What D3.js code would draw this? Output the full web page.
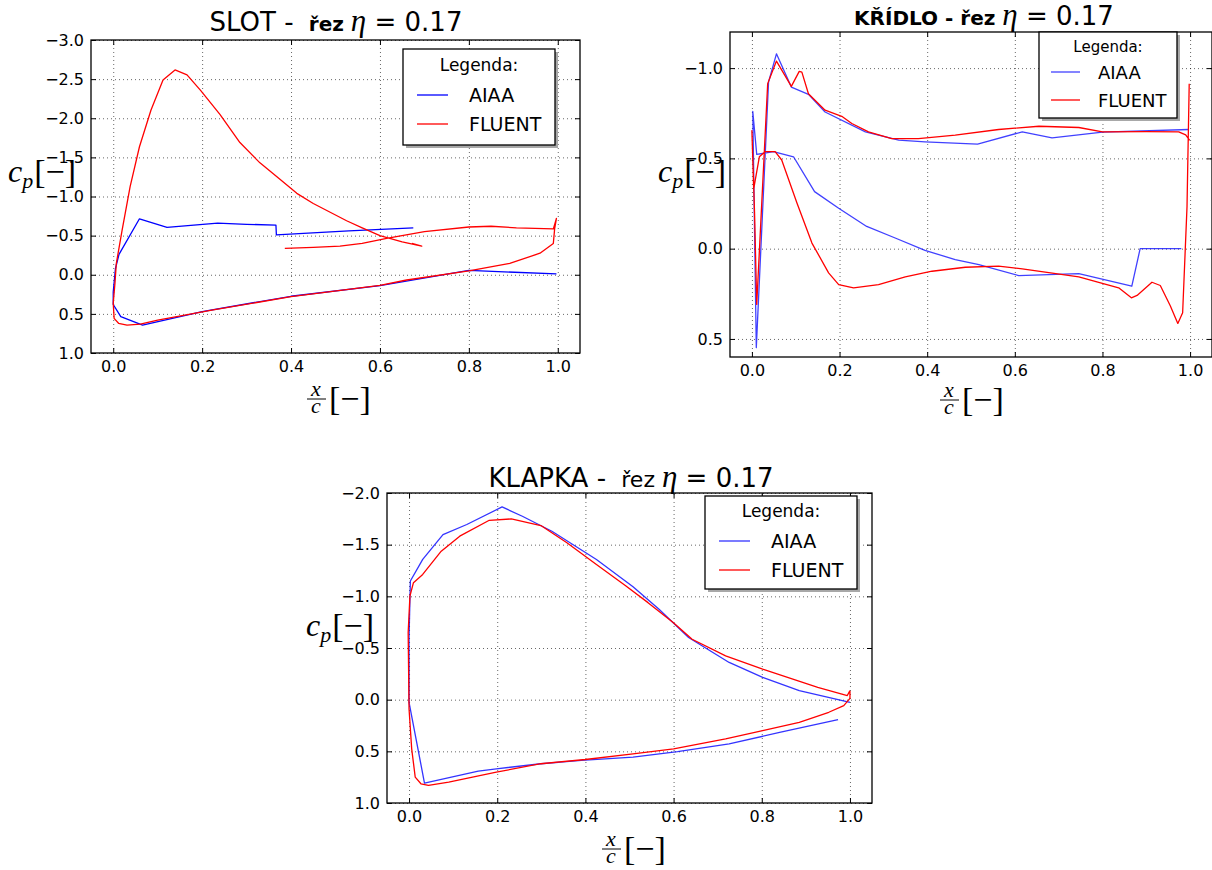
<!DOCTYPE html>
<html>
<head>
<meta charset="utf-8">
<script src="https://cdn.jsdelivr.net/npm/d3@7"></script>
<style>
  body { margin: 0; background: #fff; }
</style>
</head>
<body>
<div id="vis-container"></div>
<script>
// tick values
const xTicks = [0, 0.2, 0.4, 0.6, 0.8, 1.0];
const slotYTicks = [-3, -2.5, -2, -1.5, -1, -0.5, 0, 0.5, 1];
const kridloYTicks = [-1, -0.5, 0, 0.5];
const klapkaYTicks = [-2, -1.5, -1, -0.5, 0, 0.5, 1];
const seriesNames = ["AIAA", "FLUENT"];

// SLOT, [x/c, cp]
const slotAiaa = [
  [0.675, -0.60], [0.53, -0.56], [0.367, -0.51], [0.366, -0.635], [0.30, -0.645],
  [0.235, -0.66], [0.121, -0.605], [0.059, -0.715], [0.013, -0.26], [0.005, -0.08],
  [0.0, 0.22], [0.0, 0.38], [0.017, 0.535], [0.066, 0.645], [0.2, 0.47],
  [0.4, 0.275], [0.6, 0.14], [0.8, -0.055], [0.997, -0.01]
];
const slotFluent = [
  [0.386, -0.338], [0.45, -0.35], [0.51, -0.365], [0.56, -0.40], [0.615, -0.466],
  [0.70, -0.55], [0.80, -0.61], [0.85, -0.62], [0.907, -0.60], [0.99, -0.585],
  [0.997, -0.72], [0.993, -0.59], [0.99, -0.40], [0.96, -0.275], [0.892, -0.145],
  [0.80, -0.05], [0.66, 0.067], [0.60, 0.135], [0.40, 0.28], [0.225, 0.45],
  [0.10, 0.58], [0.061, 0.63], [0.031, 0.645], [0.012, 0.62], [0.002, 0.557],
  [0.0, 0.365], [0.004, 0.1], [0.007, -0.146], [0.02, -0.57], [0.038, -1.125],
  [0.059, -1.636], [0.085, -2.105], [0.112, -2.49], [0.139, -2.617], [0.166, -2.555],
  [0.196, -2.36], [0.24, -2.05], [0.285, -1.69], [0.33, -1.43], [0.375, -1.22],
  [0.413, -1.04], [0.45, -0.91], [0.525, -0.69], [0.56, -0.60], [0.60, -0.50],
  [0.65, -0.42], [0.694, -0.367], [0.672, -0.40]
];

// KRIDLO, [x/c, cp]
const kridloAiaa = [
  [0.997, -0.66], [0.8, -0.645], [0.685, -0.614], [0.617, -0.647], [0.515, -0.579],
  [0.395, -0.592], [0.335, -0.601], [0.259, -0.647], [0.167, -0.757], [0.129, -0.855],
  [0.09, -0.895], [0.056, -1.079], [0.038, -0.923], [0.01, 0.548], [0.002, -0.76],
  [0.011, -0.522], [0.049, -0.537], [0.095, -0.509], [0.143, -0.316], [0.198, -0.224],
  [0.262, -0.123], [0.327, -0.059], [0.395, 0.009], [0.464, 0.061], [0.518, 0.088],
  [0.609, 0.149], [0.746, 0.138], [0.867, 0.208], [0.886, 0.0], [0.98, 0.0]
];
const kridloFluent = [
  [0.999, -0.60], [0.99, -0.63], [0.974, -0.647], [0.9, -0.648], [0.8, -0.647],
  [0.746, -0.671], [0.655, -0.678], [0.563, -0.66], [0.464, -0.629], [0.38, -0.61],
  [0.319, -0.61], [0.266, -0.647], [0.228, -0.693], [0.205, -0.733], [0.167, -0.767],
  [0.129, -0.858], [0.114, -0.978], [0.108, -0.982], [0.09, -0.899], [0.056, -1.039],
  [0.036, -0.914], [0.011, 0.309], [0.006, -0.2], [0.0, -0.653], [0.004, -0.33],
  [0.017, -0.509], [0.03, -0.537], [0.053, -0.537], [0.068, -0.491], [0.103, -0.252],
  [0.137, -0.031], [0.175, 0.134], [0.198, 0.199], [0.232, 0.217], [0.289, 0.199],
  [0.35, 0.156], [0.411, 0.125], [0.487, 0.103], [0.563, 0.097], [0.617, 0.112],
  [0.746, 0.156], [0.837, 0.217], [0.866, 0.272], [0.879, 0.259], [0.913, 0.186],
  [0.932, 0.204], [0.955, 0.318], [0.972, 0.414], [0.983, 0.355], [0.993, -0.233],
  [0.998, -0.914]
];

// KLAPKA, [x/c, cp]
const klapkaAiaa = [
  [0.973, 0.193], [0.843, 0.315], [0.726, 0.428], [0.609, 0.502], [0.508, 0.556],
  [0.391, 0.588], [0.299, 0.62], [0.198, 0.669], [0.157, 0.691], [0.035, 0.807],
  [0.0, 0.026], [0.0, -0.6], [0.003, -1.148], [0.031, -1.357], [0.077, -1.598],
  [0.131, -1.695], [0.211, -1.865], [0.257, -1.775], [0.324, -1.63], [0.425, -1.357],
  [0.508, -1.093], [0.567, -0.875], [0.634, -0.601], [0.726, -0.36], [0.802, -0.215],
  [0.885, -0.087], [1.0, 0.026]
];
const klapkaFluent = [
  [1.0, -0.087], [0.994, -0.04], [0.927, -0.119], [0.802, -0.296], [0.718, -0.424],
  [0.642, -0.585], [0.599, -0.746], [0.542, -0.939], [0.492, -1.1], [0.425, -1.309],
  [0.358, -1.518], [0.299, -1.685], [0.232, -1.749], [0.182, -1.736], [0.115, -1.582],
  [0.073, -1.437], [0.031, -1.212], [0.01, -1.132], [0.002, -1.003], [-0.002, -0.65],
  [0.0, 0.09], [0.006, 0.476], [0.014, 0.749], [0.027, 0.814], [0.044, 0.83],
  [0.09, 0.797], [0.198, 0.701], [0.299, 0.62], [0.4, 0.579], [0.508, 0.524],
  [0.6, 0.476], [0.718, 0.379], [0.802, 0.299], [0.885, 0.219], [0.952, 0.122],
  [0.986, 0.058], [1.0, -0.013], [1.0, -0.087]
];

const panels = [
  {
    left: 91, top: 40, width: 489, height: 313, yDomain: [-3, 1], yTicks: slotYTicks,
    series: [slotAiaa, slotFluent], blueOpacity: 1,
    title: { x: 336, y: 31, parts: [["SLOT - ", 26, "normal"], [" řez ", 20, "bold"]] },
    legend: { x: 403, y: 49, w: 152, h: 96, titleY: 22, rows: [46, 75], lineX: 14, lineW: 31, textX: 66, fs: 17, efs: 19 },
    ylab: { x: 8, y: 182 }, xlab: { cx: 335, y: 399 }
  },
  {
    left: 730, top: 32, width: 482, height: 325, yDomain: [-1.2, 0.6], yTicks: kridloYTicks,
    series: [kridloAiaa, kridloFluent], blueOpacity: 0.75,
    title: { x: 984, y: 25, parts: [["KŘÍDLO - řez ", 20, "bold"]] },
    legend: { x: 1039, y: 32, w: 138, h: 86, titleY: 20, rows: [40, 68], lineX: 12, lineW: 29, textX: 59, fs: 15, efs: 18 },
    ylab: { x: 658, y: 182 }, xlab: { cx: 968, y: 400 }
  },
  {
    left: 387, top: 493, width: 485, height: 310, yDomain: [-2, 1], yTicks: klapkaYTicks,
    series: [klapkaAiaa, klapkaFluent], blueOpacity: 0.8,
    title: { x: 631, y: 487, parts: [["KLAPKA - ", 26, "normal"], [" řez ", 22, "normal"]] },
    legend: { x: 705, y: 496, w: 152, h: 93, titleY: 21, rows: [45, 74], lineX: 14, lineW: 31, textX: 66, fs: 17, efs: 19 },
    ylab: { x: 306, y: 636 }, xlab: { cx: 630, y: 849 }
  }
];

const colors = ["#0000ff", "#ff0000"];
const mathFont = '"Liberation Serif", "DejaVu Serif", serif';

const svg = d3.select("#vis-container")
  .append("svg")
    .attr("width", 1212)
    .attr("height", 870)
    .attr("font-family", "DejaVu Sans, sans-serif");

panels.forEach((p, i) => {
  const g = svg.append("g")
    .attr("transform", `translate(${p.left}, ${p.top})`);

  const x = d3.scaleLinear().domain([-0.05, 1.05]).range([0, p.width]);
  // cp axis is inverted: negative values on top
  const y = d3.scaleLinear().domain(p.yDomain).range([0, p.height]);

  // dotted grid
  g.append("g")
    .attr("transform", `translate(0, ${p.height})`)
    .call(d3.axisBottom(x).tickValues(xTicks).tickSize(-p.height).tickFormat(""))
    .call(a => a.select(".domain").remove());
  g.append("g")
    .call(d3.axisLeft(y).tickValues(p.yTicks).tickSize(-p.width).tickFormat(""))
    .call(a => a.select(".domain").remove());
  g.selectAll(".tick line")
    .attr("stroke", "#000")
    .attr("stroke-width", 0.8)
    .attr("stroke-dasharray", "1,3")
    .attr("opacity", 0.75);

  // curves
  const clipId = "clip" + i;
  g.append("clipPath").attr("id", clipId)
    .append("rect").attr("width", p.width).attr("height", p.height);

  const line = d3.line()
    .x(d => x(d[0]))
    .y(d => y(d[1]));

  p.series.forEach((s, k) => {
    g.append("path")
      .datum(s)
      .attr("clip-path", `url(#${clipId})`)
      .attr("fill", "none")
      .attr("stroke", colors[k])
      .attr("stroke-opacity", k === 0 ? p.blueOpacity : 1)
      .attr("stroke-width", 1.3)
      .attr("stroke-linejoin", "round")
      .attr("d", line);
  });

  // axes with inward ticks on all four sides
  const fmt = d3.format(".1f");
  const styleAxis = a => {
    a.select(".domain").remove();
    a.attr("font-family", "DejaVu Sans").attr("font-size", 16);
    a.selectAll(".tick line").attr("stroke", "#000").attr("stroke-width", 1);
    a.selectAll(".tick text").attr("fill", "#000");
  };
  g.append("g").attr("transform", `translate(0, ${p.height})`)
    .call(d3.axisBottom(x).tickValues(xTicks).tickSize(-5).tickPadding(8).tickFormat(fmt))
    .call(styleAxis);
  g.append("g")
    .call(d3.axisTop(x).tickValues(xTicks).tickSize(-5).tickFormat(""))
    .call(styleAxis);
  g.append("g")
    .call(d3.axisLeft(y).tickValues(p.yTicks).tickSize(-5).tickPadding(7).tickFormat(fmt))
    .call(styleAxis);
  g.append("g").attr("transform", `translate(${p.width}, 0)`)
    .call(d3.axisRight(y).tickValues(p.yTicks).tickSize(-5).tickFormat(""))
    .call(styleAxis);

  // frame
  g.append("rect")
    .attr("width", p.width)
    .attr("height", p.height)
    .attr("fill", "none")
    .attr("stroke", "#000")
    .attr("stroke-width", 1.3);

  // title
  const t = svg.append("text")
    .attr("x", p.title.x)
    .attr("y", p.title.y)
    .attr("text-anchor", "middle")
    .attr("xml:space", "preserve");
  p.title.parts.forEach(part => {
    t.append("tspan").attr("font-size", part[1]).attr("font-weight", part[2]).text(part[0]);
  });
  t.append("tspan").attr("font-family", mathFont).attr("font-style", "italic").attr("font-size", 31).text("η");
  t.append("tspan").attr("font-size", 26).text(" = 0.17");

  // y label  c_p[-]
  const yl = svg.append("text")
    .attr("x", p.ylab.x)
    .attr("y", p.ylab.y)
    .attr("font-family", mathFont);
  yl.append("tspan").attr("font-style", "italic").attr("font-size", 32).text("c");
  yl.append("tspan").attr("font-style", "italic").attr("font-size", 22).attr("dy", 6).text("p");
  yl.append("tspan").attr("font-size", 34).attr("dy", -5).attr("dx", 1).text("[−]");

  // x label  x/c [-]
  const xl = svg.append("g").attr("font-family", mathFont);
  xl.append("text").attr("x", p.xlab.cx - 19).attr("y", p.xlab.y - 3)
    .attr("text-anchor", "middle").attr("font-style", "italic").attr("font-size", 22).text("x");
  xl.append("line")
    .attr("x1", p.xlab.cx - 28).attr("x2", p.xlab.cx - 9)
    .attr("y1", p.xlab.y).attr("y2", p.xlab.y)
    .attr("stroke", "#000").attr("stroke-width", 1);
  xl.append("text").attr("x", p.xlab.cx - 19).attr("y", p.xlab.y + 14)
    .attr("text-anchor", "middle").attr("font-style", "italic").attr("font-size", 22).text("c");
  xl.append("text").attr("x", p.xlab.cx - 6).attr("y", p.xlab.y + 11)
    .attr("font-size", 34).text("[−]");

  // legend with shadow
  const L = p.legend;
  const lg = svg.append("g").attr("transform", `translate(${L.x}, ${L.y})`);
  lg.append("rect").attr("x", 3).attr("y", 3).attr("width", L.w).attr("height", L.h).attr("fill", "#a8a8a8");
  lg.append("rect").attr("width", L.w).attr("height", L.h)
    .attr("fill", "#fff").attr("stroke", "#000").attr("stroke-width", 1.3);
  lg.append("text").attr("x", L.w / 2).attr("y", L.titleY)
    .attr("text-anchor", "middle").attr("font-size", L.fs).text("Legenda:");
  seriesNames.forEach((name, k) => {
    lg.append("line")
      .attr("x1", L.lineX).attr("x2", L.lineX + L.lineW)
      .attr("y1", L.rows[k]).attr("y2", L.rows[k])
      .attr("stroke", colors[k])
      .attr("stroke-opacity", k === 0 ? p.blueOpacity : 1)
      .attr("stroke-width", 1.3);
    lg.append("text").attr("x", L.textX).attr("y", L.rows[k] + 7)
      .attr("font-size", L.efs).text(name);
  });
});
</script>
</body>
</html>
